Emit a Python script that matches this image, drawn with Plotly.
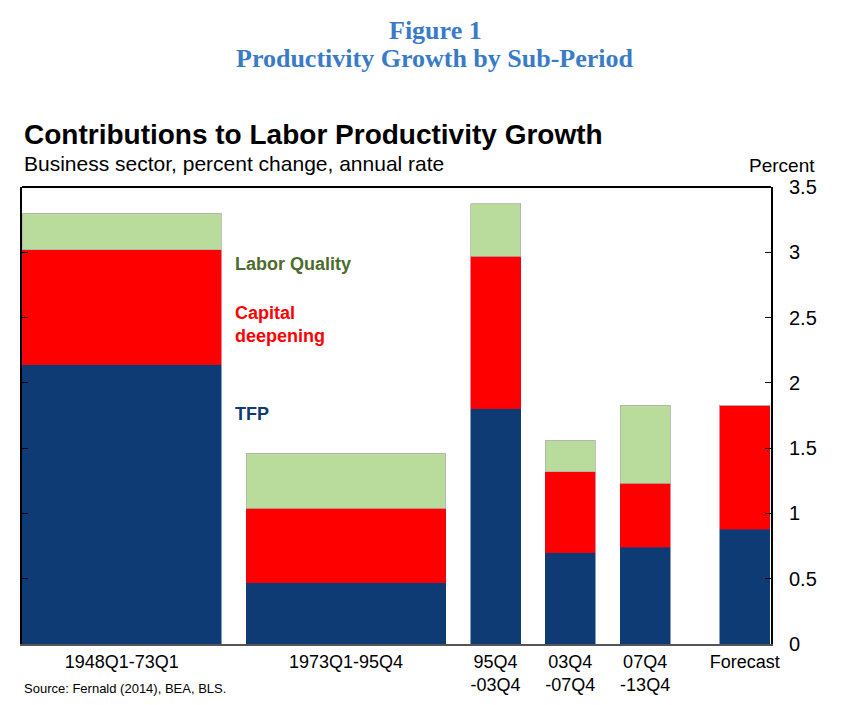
import plotly.graph_objects as go

# Sub-periods and contributions (percentage points, annual rate)
periods = ['1948Q1-73Q1', '1973Q1-95Q4', '95Q4<br>-03Q4', '03Q4<br>-07Q4', '07Q4<br>-13Q4', 'Forecast']
centers = [4, 13, 19, 22, 25, 29]
widths = [8, 8, 2, 2, 2, 2]

tfp = [2.14, 0.47, 1.80, 0.70, 0.74, 0.88]
capital = [0.88, 0.57, 1.17, 0.62, 0.49, 0.95]
labor_quality = [0.28, 0.42, 0.40, 0.24, 0.60, 0.0]

yticks = [0, 0.5, 1, 1.5, 2, 2.5, 3, 3.5]
ytick_text = ['0', '0.5', '1', '1.5', '2', '2.5', '3', '3.5']

NAVY = '#0e3b73'
RED = '#ff0000'
GREEN = '#b9db9b'
FONT = 'Liberation Sans, Arial, sans-serif'
SERIF = 'Liberation Serif, Times New Roman, serif'

fig = go.Figure()
fig.add_trace(go.Bar(x=centers, y=tfp, width=widths, name='TFP',
                     marker=dict(color=NAVY, line=dict(color=NAVY, width=0.5))))
fig.add_trace(go.Bar(x=centers, y=capital, width=widths, name='Capital deepening',
                     marker=dict(color=RED, line=dict(color='#c8102e', width=0.5))))
fig.add_trace(go.Bar(x=centers, y=labor_quality, width=widths, name='Labor Quality',
                     marker=dict(color=GREEN, line=dict(color='#b0b0b0', width=0.8))))

ann = []
# figure heading
ann.append(dict(text='<b>Figure 1</b>', x=0.552, y=1.3435, xref='paper', yref='paper',
                showarrow=False, xanchor='center', yanchor='middle',
                font=dict(family=SERIF, size=26, color='#3a7bc8')))
ann.append(dict(text='<b>Productivity Growth by Sub-Period</b>', x=0.552, y=1.282,
                xref='paper', yref='paper', showarrow=False, xanchor='center', yanchor='middle',
                font=dict(family=SERIF, size=26, color='#3a7bc8')))
# chart title and subtitle
ann.append(dict(text='<b>Contributions to Labor Productivity Growth</b>', x=0, y=1.114,
                xref='paper', yref='paper', showarrow=False, xanchor='left', yanchor='middle',
                font=dict(family=FONT, size=28, color='black')))
ann.append(dict(text='Business sector, percent change, annual rate', x=0, y=1.0525,
                xref='paper', yref='paper', showarrow=False, xanchor='left', yanchor='middle',
                font=dict(family=FONT, size=21, color='black')))
ann.append(dict(text='Percent', x=1.061, y=1.048, xref='paper', yref='paper',
                showarrow=False, xanchor='right', yanchor='middle',
                font=dict(family=FONT, size=19, color='black')))
ann.append(dict(text='Source: Fernald (2014), BEA, BLS.', x=0, y=-0.0963,
                xref='paper', yref='paper', showarrow=False, xanchor='left', yanchor='middle',
                font=dict(family='Liberation Sans Narrow, Arial Narrow, ' + FONT, size=13, color='black')))
# series labels inside the plot
ann.append(dict(text='<b>Labor Quality</b>', x=8.48, y=2.91, showarrow=False,
                xanchor='left', yanchor='middle', font=dict(family=FONT, size=18, color='#4d6b2c')))
ann.append(dict(text='<b>Capital<br>deepening</b>', x=8.48, y=2.45, showarrow=False,
                xanchor='left', yanchor='middle', align='left',
                font=dict(family=FONT, size=18, color=RED)))
ann.append(dict(text='<b>TFP</b>', x=8.48, y=1.76, showarrow=False,
                xanchor='left', yanchor='middle', font=dict(family=FONT, size=18, color=NAVY)))

fig.update_layout(
    barmode='stack',
    width=845, height=705,
    margin=dict(l=12, r=82, t=179, b=69),
    plot_bgcolor='white', paper_bgcolor='white',
    showlegend=False,
    annotations=ann,
    font=dict(family=FONT, color='black'),
    shapes=[dict(type='line', xref='paper', yref='paper', x0=0, x1=1, y0=1, y1=1,
                 line=dict(color='black', width=2))],
)
fig.update_xaxes(range=[0, 30.05], tickvals=centers, ticktext=periods, showgrid=False,
                 zeroline=False, showline=True, linecolor='#555555', linewidth=2,
                 ticks='', tickfont=dict(size=18, color='black'))
fig.update_yaxes(range=[0, 3.5], side='right', tickvals=yticks, ticktext=ytick_text,
                 showgrid=False, zeroline=False, showline=True, linecolor='black', linewidth=2,
                 mirror='ticks', ticks='inside', ticklen=6, tickcolor='black',
                 ticklabelstandoff=12, tickfont=dict(size=20, color='black'))

fig.write_html("out.html")
